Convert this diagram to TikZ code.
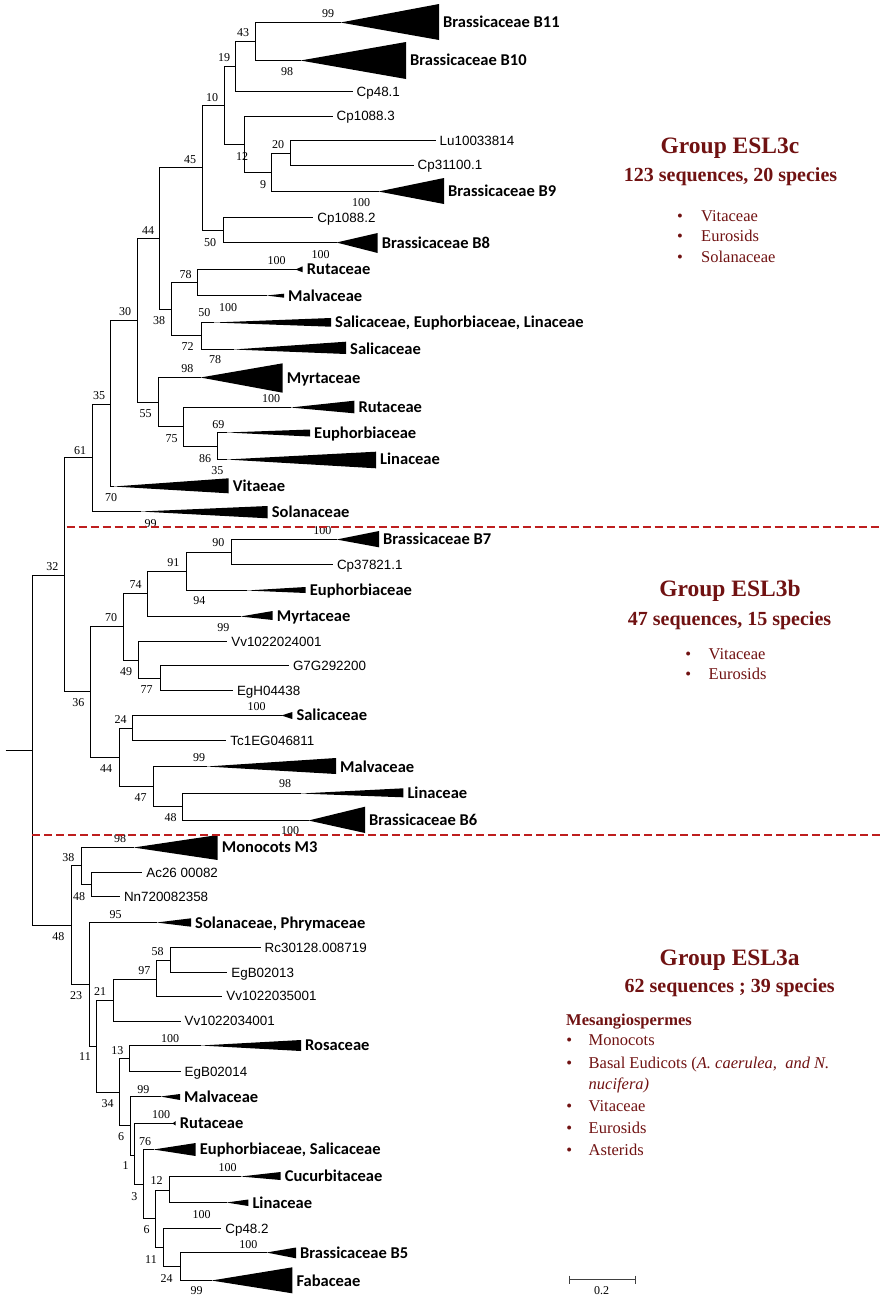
\documentclass[tikz,border=0pt]{standalone}
\usepackage{fontspec}
\setmainfont{Liberation Serif}
\newfontfamily\arialf{Liberation Sans}
\newfontfamily\calf{Carlito}
\definecolor{grp}{RGB}{112,18,18}
\definecolor{dashred}{RGB}{190,30,30}
\tikzset{
  br/.style={line width=1.1pt},
  leaflab/.style={font=\arialf\fontsize{13.4}{14}\selectfont, anchor=west, inner sep=0pt, text height=9.6pt, text depth=0pt},
  cladelab/.style={font=\calf\bfseries\fontsize{16.5}{18}\selectfont, anchor=west, inner sep=0pt, text height=10.6pt, text depth=0pt},
  bs/.style={font=\fontsize{12}{13}\selectfont, inner sep=0pt, text height=8.1pt, text depth=0pt},
  gtitle/.style={font=\bfseries\fontsize{23.5}{26}\selectfont, text=grp, anchor=base, inner sep=0pt},
  gsub/.style={font=\bfseries\fontsize{20}{22}\selectfont, text=grp, anchor=base, inner sep=0pt},
  gitem/.style={font=\fontsize{16.5}{18}\selectfont, text=grp, anchor=base west, inner sep=0pt},
  gbul/.style={font=\fontsize{16.5}{18}\selectfont, text=grp, anchor=base, inner sep=0pt},
  sepline/.style={draw=dashred, line width=1.8pt, dash pattern=on 8pt off 4pt}
}
\newcommand\nd[3]{\coordinate (#1) at ({round(#2-0.5)+0.5},{round(#3-0.5)+0.5});}
\newcommand\leafnode[4]{\nd{#1}{#2}{#3} \node[leaflab] (#1l) at (#2+4.5,#3) {#4};}
\newcommand\cladenode[7]{\nd{#1}{#2}{#3} \fill (#1) -- (#4,#5) -- (#4,#6) -- cycle; \node[cladelab] (#1l) at (#4+4,#3) {#7};}
\begin{document}
\begin{tikzpicture}[x=1pt,y=-1pt]
\useasboundingbox (0,0) rectangle (881,1299);
% internal nodes
\nd{R}{32.3}{750}
\nd{r0}{5}{750}
\nd{n32}{64.3}{575}
\nd{n61}{92.3}{457.3}
\nd{n35}{110.7}{404}
\nd{n30}{137.7}{320.7}
\nd{n44}{159.7}{238.3}
\nd{n45}{202}{167.7}
\nd{n10}{224}{105.3}
\nd{n19}{235.7}{66.7}
\nd{n43}{255.7}{41}
\nd{n12}{244}{144}
\nd{n9}{271.7}{172}
\nd{n20}{290}{153}
\nd{n50}{223.3}{230}
\nd{n38}{171.7}{309}
\nd{n78}{197.7}{282.7}
\nd{n50b}{201}{335}
\nd{n55}{158.3}{402.7}
\nd{n75}{183.3}{426.7}
\nd{n86}{217.3}{446}
\nd{n36}{90.7}{691.7}
\nd{n70}{123.3}{626.7}
\nd{n74}{147.7}{593.3}
\nd{n91}{186.7}{571}
\nd{n90}{231}{552.3}
\nd{n49}{138.3}{660}
\nd{n77}{160}{678.3}
\nd{n44b}{119}{757.3}
\nd{n24}{132.7}{728.3}
\nd{n47}{153.3}{786.7}
\nd{n48b}{182.7}{806}
\nd{n48a}{71}{925}
\nd{n38a}{81}{865.8}
\nd{n48c}{91}{884.5}
\nd{n23}{89}{984}
\nd{n11a}{96.7}{1046}
\nd{n21}{113.3}{1000}
\nd{n97}{156.7}{979}
\nd{n58}{170}{960.7}
\nd{n34}{119.3}{1092.3}
\nd{n13}{129}{1058.3}
\nd{n6a}{130}{1125}
\nd{n1}{134.7}{1155}
\nd{n3}{143.3}{1184.3}
\nd{n6b}{155.7}{1218.3}
\nd{n12b}{169}{1190}
\nd{n11b}{163.3}{1247.3}
\nd{n24b}{180}{1266.7}
% ESL3c leaves
\cladenode{B11}{340}{22}{439}{4}{40}{Brassicaceae B11}
\cladenode{B10}{300}{60.3}{406}{42}{79}{Brassicaceae B10}
\leafnode{Cpa}{352}{91.7}{Cp48.1}
\leafnode{Cpb}{332}{116}{Cp1088.3}
\leafnode{Lu}{435}{140.7}{Lu10033814}
\leafnode{Cpc}{413}{165}{Cp31100.1}
\cladenode{B9}{378}{191}{444}{178}{204}{Brassicaceae B9}
\leafnode{Cpd}{312.7}{217.7}{Cp1088.2}
\cladenode{B8}{336.7}{242.7}{377.7}{233}{253}{Brassicaceae B8}
\cladenode{RutA}{295}{269.3}{302.7}{266.3}{272.3}{Rutaceae}
\cladenode{MalA}{266}{295.7}{284}{293.7}{297.7}{Malvaceae}
\cladenode{SEL}{213}{322.3}{331}{318}{326.7}{Salicaceae, Euphorbiaceae, Linaceae}
\cladenode{SalA}{233}{349}{346}{341.7}{354}{Salicaceae}
\cladenode{MyrA}{200}{377.7}{282.7}{363.3}{392.7}{Myrtaceae}
\cladenode{RutB}{290}{407.3}{354.3}{400.7}{413.3}{Rutaceae}
\cladenode{EupA}{226.7}{432.7}{310}{429.5}{436.5}{Euphorbiaceae}
\cladenode{LinA}{226.7}{459.3}{376}{451.7}{468.3}{Linaceae}
\cladenode{Vit}{113}{486}{228.7}{478.3}{493.3}{Vitaeae}
\cladenode{SolA}{140}{511.7}{267.7}{506}{518.3}{Solanaceae}
% ESL3b leaves
\cladenode{B7}{336.7}{539.3}{379}{531}{547.3}{Brassicaceae B7}
\leafnode{Cpe}{332.3}{564.3}{Cp37821.1}
\cladenode{EupB}{246.7}{590}{305.7}{587}{593}{Euphorbiaceae}
\cladenode{MyrB}{240}{616.3}{272.7}{611}{620}{Myrtaceae}
\leafnode{Vva}{226.7}{641.7}{Vv1022024001}
\leafnode{G7G}{288.3}{665.7}{G7G292200}
\leafnode{EgH}{232.3}{690.7}{EgH04438}
\cladenode{SalB}{281.7}{715}{292.3}{712}{719}{Salicaceae}
\leafnode{Tc}{225.7}{740.7}{Tc1EG046811}
\cladenode{MalB}{206.7}{766.7}{336}{758}{774}{Malvaceae}
\cladenode{LinB}{300}{793.3}{403.3}{788.3}{797.3}{Linaceae}
\cladenode{B6}{308.3}{820}{365}{806.7}{833}{Brassicaceae B6}
% ESL3a leaves
\cladenode{Mono}{133.3}{847.3}{217.7}{835}{860}{Monocots M3}
\leafnode{Ac}{141.7}{872.3}{Ac26 00082}
\leafnode{Nn}{119.3}{896.7}{Nn720082358}
\cladenode{SolP}{156.7}{922.7}{191}{918.3}{926.7}{Solanaceae, Phrymaceae}
\leafnode{Rc}{260}{947.7}{Rc30128.008719}
\leafnode{EgBa}{226.7}{972.3}{EgB02013}
\leafnode{Vvb}{221.7}{996}{Vv1022035001}
\leafnode{Vvc}{180}{1021}{Vv1022034001}
\cladenode{Ros}{200}{1045}{301}{1040}{1051}{Rosaceae}
\leafnode{EgBb}{180}{1071.7}{EgB02014}
\cladenode{MalC}{160}{1096.7}{180}{1094}{1100}{Malvaceae}
\cladenode{RutC}{172}{1123.3}{175.7}{1121}{1125.5}{Rutaceae}
\cladenode{EupS}{153.3}{1149.3}{195.7}{1143}{1156}{Euphorbiaceae, Salicaceae}
\cladenode{Cuc}{240}{1176}{280.7}{1172}{1180}{Cucurbitaceae}
\cladenode{LinC}{226.7}{1202.7}{248.3}{1199.5}{1206}{Linaceae}
\leafnode{Cpf}{220.7}{1228.3}{Cp48.2}
\cladenode{B5}{266.7}{1252.7}{296}{1247.5}{1258.3}{Brassicaceae B5}
\cladenode{Fab}{211.7}{1280.7}{292.3}{1267.3}{1293.3}{Fabaceae}
% branches
\draw[br] (r0) -- (R);
\foreach \p/\c in {R/n32,R/n48a,n32/n61,n32/n36,n61/n35,n61/SolA,n35/n30,n35/Vit,
  n30/n44,n30/n55,n44/n45,n44/n38,n45/n10,n45/n50,n10/n19,n10/n12,n19/n43,n19/Cpa,
  n43/B11,n43/B10,n12/Cpb,n12/n9,n9/n20,n9/B9,n20/Lu,n20/Cpc,n50/Cpd,n50/B8,
  n38/n78,n38/n50b,n78/RutA,n78/MalA,n50b/SEL,n50b/SalA,n55/MyrA,n55/n75,n75/RutB,n75/n86,
  n86/EupA,n86/LinA,n36/n70,n36/n44b,n70/n74,n70/n49,n74/n91,n74/MyrB,n91/n90,n91/EupB,
  n90/B7,n90/Cpe,n49/Vva,n49/n77,n77/G7G,n77/EgH,n44b/n24,n44b/n47,n24/SalB,n24/Tc,
  n47/MalB,n47/n48b,n48b/LinB,n48b/B6,n48a/n38a,n48a/n23,n38a/Mono,n38a/n48c,n48c/Ac,n48c/Nn,
  n23/SolP,n23/n11a,n11a/n21,n11a/n34,n21/n97,n21/Vvc,n97/n58,n97/Vvb,n58/Rc,n58/EgBa,
  n34/n13,n34/n6a,n13/Ros,n13/EgBb,n6a/MalC,n6a/n1,n1/RutC,n1/n3,n3/EupS,n3/n6b,
  n6b/n12b,n6b/n11b,n12b/Cuc,n12b/LinC,n11b/Cpf,n11b/n24b,n24b/B5,n24b/Fab}
  \draw[br] (\p) |- (\c);
% bootstrap values
\foreach \x/\y/\t [count=\i] in {328/13/99,243/32/43,287/71/98,224/57/19,212/97/10,242/156/12,263/184/9,278/144/20,
  361/202/100,190/159/45,210/242/50,320.7/254/100,148/230/44,276.7/260.7/100,185.7/274/78,228/307/100,
  125/311.7/30,159/320/38,204.3/312.7/50,187.7/346.7/72,215/359/78,187.3/368.3/98,271/398.3/100,
  145.7/413/55,99/395/35,171.7/438.3/75,218.3/424.3/69,205/458.3/86,217.3/470.7/35,111/497.3/70,
  80/450/61,150.7/523.3/99,
  52.3/566/32,322.3/530.7/100,218.3/542.7/90,173.3/562.3/91,135.7/584.3/74,199.3/600.7/94,111/617.7/70,
  223.3/627.3/99,126/671/49,146.7/689.3/77,78.3/702.7/36,256.7/706.7/100,120.7/719.3/24,199/757.3/99,
  106/768.3/44,285/783.3/98,140.7/797.3/47,170.7/817.7/48,290/830.7/100,
  120/838.3/98,68.3/857.7/38,79/896.7/48,58.3/936/48,115.7/914.3/95,157.7/951.7/58,144.3/970/97,
  100/991/21,76/995/23,170/1038.3/100,117.3/1050/13,85/1056.7/11,143.3/1089/99,107.7/1103.3/34,
  161/1114.3/100,121/1136.7/6,145/1141/76,125.7/1165/1,227.7/1167.3/100,156.7/1180.7/12,134.3/1196/3,
  201.7/1214/100,146.7/1229.3/6,248.3/1244.3/100,151/1259/11,166.7/1278.3/24,196.7/1290.7/99}
  \node[bs] (bs\i) at (\x,\y) {\t};
% separators
\coordinate (d1a) at (66.7,527.3); \coordinate (d1b) at (881,527.3);
\coordinate (d2a) at (32.3,834.7); \coordinate (d2b) at (881,834.7);
\draw[sepline] (d1a) -- (d1b);
\draw[sepline] (d2a) -- (d2b);
% group ESL3c
\node[gtitle] (g3c) at (730,153.3) {Group ESL3c};
\node[gsub] (g3cs) at (730.5,181.7) {123 sequences, 20 species};
\foreach \y/\t [count=\i] in {221.7/Vitaceae,241.7/Eurosids,262.7/Solanaceae}{
  \node[gbul] (c3b\i) at (680,\y) {•};
  \node[gitem] (c3i\i) at (701,\y) {\t};}
% group ESL3b
\node[gtitle] (g3b) at (730,596) {Group ESL3b};
\node[gsub] (g3bs) at (729.5,625.7) {47 sequences, 15 species};
\foreach \y/\t [count=\i] in {659.3/Vitaceae,679.3/Eurosids}{
  \node[gbul] (b3b\i) at (688.3,\y) {•};
  \node[gitem] (b3i\i) at (708.5,\y) {\t};}
% group ESL3a
\node[gtitle] (g3a) at (729.7,965) {Group ESL3a};
\node[gsub] (g3as) at (729.7,992.7) {62 sequences ; 39 species};
\node[gitem, font=\bfseries\fontsize{16.5}{18}\selectfont] (mes) at (566,1025) {Mesangiospermes};
\foreach \y/\t [count=\i] in {1045.3/Monocots,1068.3/{Basal Eudicots (\textit{A. caerulea,\ \ and N.}},1111/Vitaceae,1133.3/Eurosids,1155/Asterids}{
  \node[gbul] (a3b\i) at (569.3,\y) {•};
  \node[gitem] (a3i\i) at (588.5,\y) {\t};}
\node[gitem] (a3n) at (588.5,1089.3) {\textit{nucifera)}};
% scale bar
\nd{sb1}{569.3}{1279} \nd{sb2}{635.7}{1279}
\draw[line width=1.2pt, draw=black!75] (sb1) -- (sb2);
\draw[line width=1.2pt, draw=black!75] ([yshift=4pt]sb1) -- ([yshift=-4pt]sb1);
\draw[line width=1.2pt, draw=black!75] ([yshift=4pt]sb2) -- ([yshift=-4pt]sb2);
\node[font=\fontsize{12}{13}\selectfont, anchor=base, inner sep=0pt] (sbl) at (601.7,1294.3) {0.2};
\end{tikzpicture}
\end{document}
